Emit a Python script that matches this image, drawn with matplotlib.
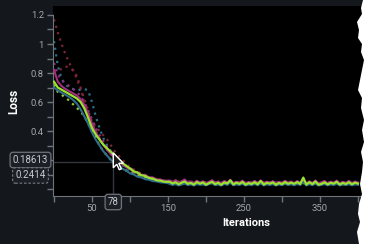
import numpy as np
import matplotlib as mpl
from matplotlib import pyplot as plt
from matplotlib.patches import Polygon

### data ###
it_head = [0, 5, 10, 15, 20, 25, 30, 35, 40, 45, 50, 55, 60, 65, 70, 75, 80, 85, 90,
           95, 100, 105, 110, 115, 120, 125, 130, 135, 140, 145, 150]
it_tail = list(range(152, 404, 4))

green_head = [0.74, 0.70, 0.685, 0.67, 0.655, 0.64, 0.625, 0.60, 0.555, 0.49, 0.42, 0.375, 0.34,
              0.305, 0.28, 0.255, 0.23, 0.205, 0.18, 0.16, 0.142, 0.122, 0.113, 0.095, 0.09,
              0.076, 0.072, 0.06, 0.058, 0.05, 0.05]
green_tail = [0.05, 0.038, 0.047, 0.033, 0.044, 0.052, 0.036, 0.042, 0.031, 0.048,
              0.037, 0.045, 0.03, 0.041, 0.05, 0.034, 0.043, 0.029, 0.046, 0.038,
              0.06, 0.032, 0.044, 0.036, 0.049, 0.03, 0.041, 0.035, 0.047, 0.033,
              0.055, 0.031, 0.043, 0.037, 0.046, 0.03, 0.042, 0.034, 0.048, 0.036,
              0.044, 0.036, 0.048, 0.035, 0.079, 0.031, 0.047, 0.034, 0.052, 0.03,
              0.036, 0.046, 0.032, 0.043, 0.037, 0.05, 0.031, 0.042, 0.035, 0.047,
              0.033, 0.044, 0.038]

teal_head = [0.70, 0.68, 0.665, 0.65, 0.635, 0.615, 0.59, 0.55, 0.50, 0.45, 0.39, 0.34, 0.30,
             0.26, 0.23, 0.20, 0.18, 0.16, 0.14, 0.128, 0.108, 0.1, 0.085, 0.08, 0.068, 0.064,
             0.055, 0.053, 0.046, 0.045, 0.04]
teal_tail = [0.036, 0.028, 0.034, 0.025, 0.031, 0.038, 0.027, 0.033, 0.024, 0.035,
             0.029, 0.032, 0.026, 0.034, 0.04, 0.027, 0.031, 0.024, 0.036, 0.029,
             0.045, 0.026, 0.032, 0.028, 0.037, 0.025, 0.031, 0.027, 0.035, 0.026,
             0.041, 0.025, 0.033, 0.028, 0.034, 0.024, 0.032, 0.027, 0.036, 0.028,
             0.033, 0.026, 0.035, 0.028, 0.05, 0.025, 0.034, 0.027, 0.038, 0.024,
             0.029, 0.035, 0.026, 0.032, 0.028, 0.037, 0.025, 0.031, 0.027, 0.034,
             0.026, 0.032, 0.029]

magenta_head = [0.82, 0.74, 0.71, 0.69, 0.675, 0.66, 0.645, 0.62, 0.58, 0.52, 0.45, 0.39, 0.345,
                0.305, 0.27, 0.24, 0.215, 0.19, 0.17, 0.15, 0.14, 0.118, 0.113, 0.097, 0.098,
                0.08, 0.08, 0.065, 0.066, 0.056, 0.058]
magenta_tail = [0.058, 0.046, 0.062, 0.042, 0.054, 0.066, 0.044, 0.051, 0.04, 0.057,
                0.045, 0.053, 0.039, 0.05, 0.061, 0.043, 0.052, 0.038, 0.055, 0.046,
                0.063, 0.041, 0.05, 0.044, 0.058, 0.039, 0.049, 0.043, 0.056, 0.041,
                0.06, 0.04, 0.051, 0.045, 0.054, 0.038, 0.05, 0.042, 0.057, 0.044,
                0.052, 0.04, 0.055, 0.043, 0.068, 0.039, 0.053, 0.042, 0.059, 0.038,
                0.047, 0.055, 0.04, 0.051, 0.044, 0.058, 0.039, 0.05, 0.043, 0.056,
                0.041, 0.052, 0.045]

it_dot = [0, 5, 10, 15, 20, 25, 30, 35, 40, 45, 50, 55, 60, 65, 70, 75, 80, 85, 90, 100, 110,
          120, 130, 140, 150, 200, 300, 400]
maroon_a = [1.17, 1.08, 1.0, 0.93, 0.87, 0.82, 0.76, 0.69, 0.62, 0.54, 0.46, 0.40, 0.35, 0.31,
            0.27, 0.24, 0.215, 0.19, 0.17, 0.135, 0.105, 0.085, 0.068, 0.057, 0.05, 0.045, 0.042, 0.04]
maroon_b = [0.82, 0.81, 0.83, 0.845, 0.84, 0.82, 0.78, 0.70, 0.60, 0.52, 0.47, 0.43, 0.40, 0.37,
            0.34, 0.30, 0.26, 0.23, 0.20, 0.15, 0.12, 0.095, 0.075, 0.062, 0.055, 0.047, 0.043, 0.041]
teal_dot = [1.02, 0.85, 0.76, 0.72, 0.70, 0.69, 0.68, 0.685, 0.69, 0.68, 0.60, 0.50, 0.42, 0.35,
            0.30, 0.26, 0.22, 0.19, 0.165, 0.13, 0.10, 0.08, 0.065, 0.055, 0.048, 0.042, 0.038, 0.036]
magenta_dot = [0.87, 0.79, 0.75, 0.73, 0.71, 0.69, 0.67, 0.64, 0.60, 0.54, 0.48, 0.42, 0.37, 0.33,
               0.29, 0.26, 0.23, 0.20, 0.18, 0.145, 0.115, 0.09, 0.075, 0.063, 0.056, 0.048, 0.045, 0.043]
green_dot = [0.72, 0.67, 0.65, 0.63, 0.61, 0.585, 0.56, 0.535, 0.50, 0.45, 0.40, 0.35, 0.30, 0.26,
             0.23, 0.20, 0.18, 0.16, 0.14, 0.115, 0.095, 0.078, 0.065, 0.056, 0.05, 0.043, 0.04, 0.039]

hover_it = 78
hover_vals = ['0.18613', '0.2414']
hover_y = 0.18613

### style ###
bg = '#14181c'
txt = '#a3a8ad'
spine = '#6f747a'
mpl.rc('font', size=6.5, family=['Roboto', 'DejaVu Sans'])

fig = plt.figure(figsize=(3.66, 2.44), dpi=100, facecolor=bg)
ax = fig.add_axes([53 / 366, 1 - 196 / 244, 313 / 366, 190 / 244])
ax.set_facecolor('black')
y0, y1 = -0.048, 1.262

dotted = [(maroon_a, '#7a2636'), (maroon_b, '#7a2636'), (teal_dot, '#2a6f88'),
          (magenta_dot, '#8a2f80'), (green_dot, '#8fcf2e')]
for vals, c in dotted:
    ax.plot(it_dot, vals, color=c, lw=1.6, ls=(0, (1, 2)), zorder=2)

it_full = it_head + it_tail
ax.plot(it_full, teal_head + teal_tail, color='#2f6d8c', lw=1.5, zorder=3)
ax.plot(it_full, magenta_head + magenta_tail, color='#a2307f', lw=1.5, zorder=3)
ax.plot(it_full, green_head + green_tail, color='#9be22f', lw=1.6, zorder=4)

ax.set_xlim(-1.3, 410.5)
ax.set_ylim(y0, y1)

ax.set_xticks([50, 150, 250, 350])
ax.set_xticks([0, 100, 200, 300, 400], minor=True)
ax.set_yticks([0, 0.2, 0.4, 0.6, 0.8, 1.0, 1.2])
ax.set_yticklabels(['', '', '0.4', '0.6', '0.8', '1', '1.2'])
ax.set_yticks(np.arange(0.1, 1.2, 0.2), minor=True)
ax.tick_params(which='both', colors=spine, labelcolor=txt, length=4, width=1, labelsize=6.8)
ax.tick_params(axis='y', pad=2.5)
ax.tick_params(axis='x', pad=2)
for s in ['top', 'right']:
    ax.spines[s].set_visible(False)
for s in ['left', 'bottom']:
    ax.spines[s].set_color(spine)
ax.spines['left'].set_bounds(y0, 1.2)

ax.set_ylabel('Loss', color='white', fontweight='bold', fontsize=8.5)
ax.yaxis.set_label_coords(-0.105, 0.5)
ax.set_xlabel('Iterations', color='white', fontweight='bold', fontsize=8)
ax.xaxis.set_label_coords(0.617, -0.115)

### hover crosshair & tooltips ###
ax.plot([-1.3, hover_it], [hover_y, hover_y], color='#33383e', lw=1, zorder=1)
ax.plot([hover_it, hover_it], [hover_y, y0], color='#33383e', lw=1, zorder=1)
box = dict(boxstyle='round,pad=0.28', fc='#1c2026', ec='#6f747a', lw=0.9)
box2 = dict(box, ls=(0, (2, 1.5)))
tip_x = (30.5 - 53) / 313
ax.text(tip_x, 1 - (160 - 6) / 190, hover_vals[0], transform=ax.transAxes, ha='center',
        va='center', color='#c8ccd0', fontsize=7, bbox=box)
ax.text(tip_x, 1 - (175.5 - 6) / 190, hover_vals[1], transform=ax.transAxes, ha='center',
        va='center', color='#c8ccd0', fontsize=7, bbox=box2)
ax.text(hover_it, 1 - (202 - 6) / 190, str(hover_it), ha='center', va='center',
        color='#c8ccd0', fontsize=7, bbox=box, clip_on=False, zorder=10,
        transform=ax.get_xaxis_transform())

# mouse pointer
fig.canvas.draw()
tx, ty = ax.transData.transform((hover_it, 0.25))
arrow = [(0, 0), (0, -15), (3.5, -11.5), (6, -17), (8, -16), (5.5, -10.5), (10, -10.5)]
fig.patches.append(Polygon([(tx + a, ty + b) for a, b in arrow], closed=True, fc='#1a1a1a',
                           ec='white', lw=1, transform=None, zorder=20))

# torn right edge of the screenshot
edge = [(363, 0), (361, 8), (362, 14), (357, 22), (359, 30), (358, 38), (362, 44), (361, 52),
        (364, 60), (362, 70), (360, 80), (358, 90), (362, 98), (361, 108), (364, 120),
        (362, 130), (364, 142), (361, 152), (363, 162), (362, 172), (360, 184), (362, 194),
        (359, 204), (358, 214), (360, 222), (357, 232), (359, 244)]
poly = [(366, 244)] + [(x, 244 - y) for x, y in edge] + [(366, 0)]
fig.patches.append(Polygon(poly, closed=True, fc='white', ec='none', transform=None, zorder=30))

plt.savefig('out.png', dpi=100, facecolor=bg)
